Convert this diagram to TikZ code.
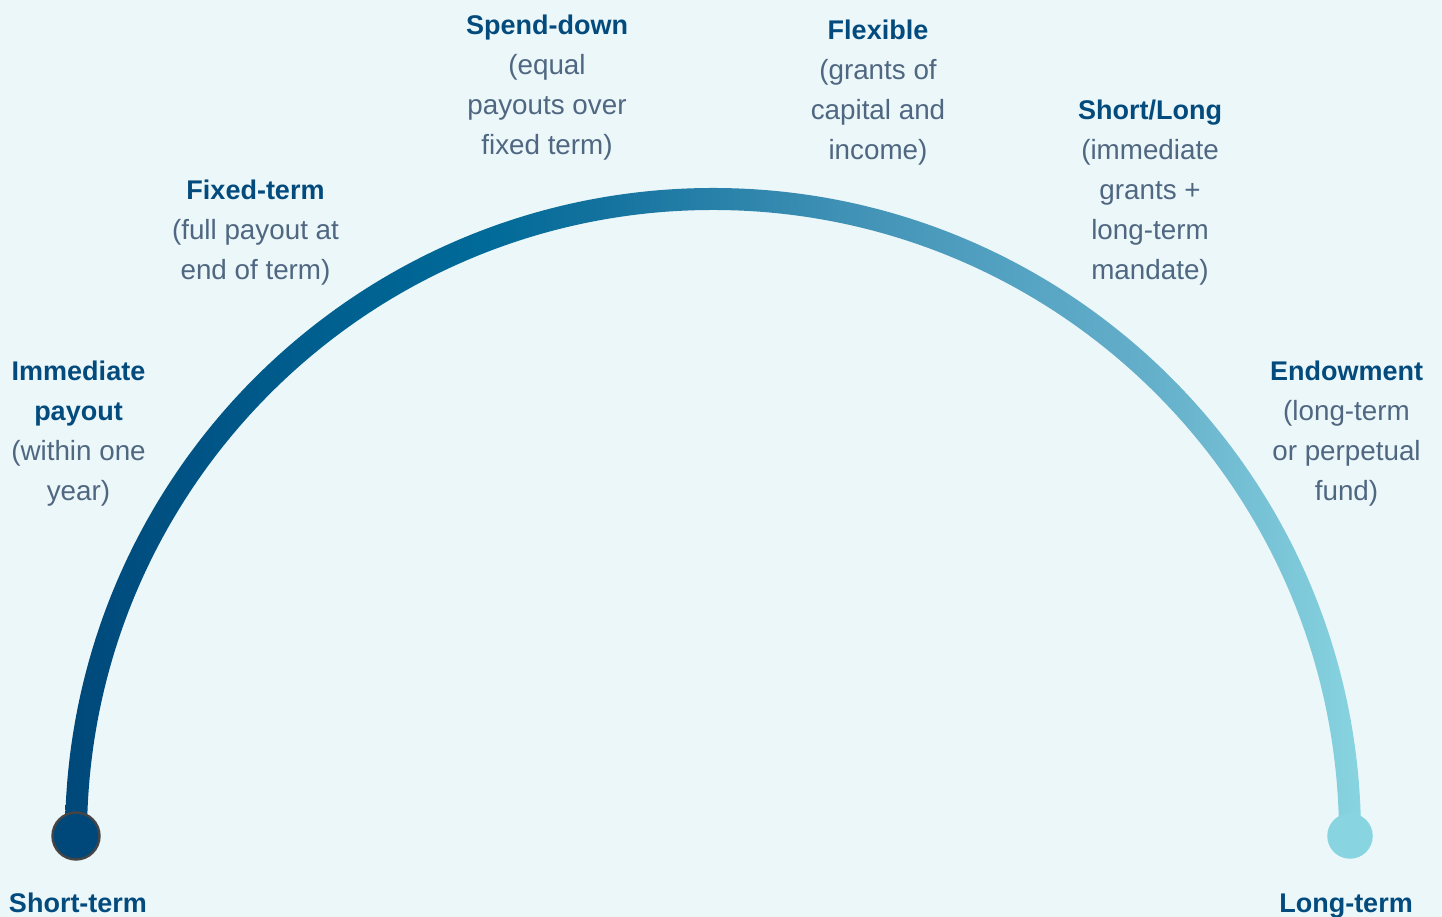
\documentclass[tikz,border=0pt]{standalone}
\usepackage{fontspec}
\setmainfont{Liberation Sans}
\usetikzlibrary{calc}

\definecolor{bg}{HTML}{ECF7F9}
\definecolor{titleblue}{HTML}{034B7D}
\definecolor{notegray}{HTML}{4F6781}
\definecolor{g0}{HTML}{00487A}
\definecolor{g1}{HTML}{006090}
\definecolor{g2}{HTML}{006A98}
\definecolor{g3}{HTML}{13729E}
\definecolor{g4}{HTML}{3F91B5}
\definecolor{g5}{HTML}{55A3C3}
\definecolor{g6}{HTML}{64AFCA}
\definecolor{g7}{HTML}{88D4E0}
\definecolor{dotrim}{HTML}{454545}

% colour ramp of the horizon band, from short-term (left) to long-term (right)
\pgfdeclarehorizontalshading{termgrad}{100bp}{color(0bp)=(g0); color(25bp)=(g0);
  color(35.2bp)=(g1); color(41bp)=(g2); color(45.6bp)=(g3); color(54.9bp)=(g4);
  color(61.8bp)=(g5); color(66.9bp)=(g6); color(75bp)=(g7); color(100bp)=(g7)}

\begin{document}
\begin{tikzpicture}[x=1pt,y=1pt,
  title/.style={font=\bfseries\fontsize{27}{40}\selectfont, text=titleblue, anchor=base, inner sep=0pt},
  note/.style={font=\fontsize{27.8}{40}\selectfont, text=notegray, anchor=base, inner sep=0pt},
  enddot/.style={circle, inner sep=0pt}]

\fill[bg] (0,0) rectangle (1442,917);
\useasboundingbox (0,0) rectangle (1442,917);

% ends of the horizon arc
\coordinate (leftend) at (76,81);
\coordinate (rightend) at (1350,81);

% the arc itself: a half ring of width 22 around (713,81)
\shade[shading=termgrad]
  ($(leftend)+(-11,0)$) arc[start angle=180, end angle=0, radius=648pt]
  -- ($(rightend)+(-11,0)$) arc[start angle=0, end angle=180, radius=626pt]
  -- cycle;

\node[enddot, minimum size=47pt, fill=g0, draw=dotrim, line width=2.4pt] (shortdot) at (leftend) {};
\node[enddot, minimum size=45.5pt, fill=g7] (longdot) at (rightend) {};

% end labels
\node[title] (shortlbl) at (78,4) {Short-term};
\node[title] (longlbl) at (1346,4) {Long-term};

% immediate payout
\node[title] (imm1) at (78.5,536) {Immediate};
\node[title] (imm2) at (78.5,496) {payout};
\node[note]  (imm3) at (78.5,456) {(within one};
\node[note]  (imm4) at (78.5,416) {year)};

% fixed-term
\node[title] (fix1) at (255.5,717) {Fixed-term};
\node[note]  (fix2) at (255.5,677) {(full payout at};
\node[note]  (fix3) at (255.5,637) {end of term)};

% spend-down
\node[title] (spd1) at (547,882) {Spend-down};
\node[note]  (spd2) at (547,842) {(equal};
\node[note]  (spd3) at (547,802) {payouts over};
\node[note]  (spd4) at (547,762) {fixed term)};

% flexible
\node[title] (flx1) at (878,877) {Flexible};
\node[note]  (flx2) at (878,837) {(grants of};
\node[note]  (flx3) at (878,797) {capital and};
\node[note]  (flx4) at (878,757) {income)};

% short/long
\node[title] (sl1) at (1150,797) {Short/Long};
\node[note]  (sl2) at (1150,757) {(immediate};
\node[note]  (sl3) at (1150,717) {grants +};
\node[note]  (sl4) at (1150,677) {long-term};
\node[note]  (sl5) at (1150,637) {mandate)};

% endowment
\node[title] (end1) at (1346.5,536) {Endowment};
\node[note]  (end2) at (1346.5,496) {(long-term};
\node[note]  (end3) at (1346.5,456) {or perpetual};
\node[note]  (end4) at (1346.5,416) {fund)};
\end{tikzpicture}
\end{document}
